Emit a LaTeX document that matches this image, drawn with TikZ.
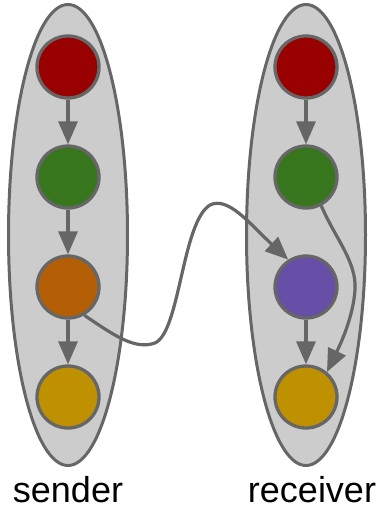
\documentclass[tikz,border=0pt]{standalone}
\usepackage{fontspec}
\setmainfont{Liberation Sans}
\usetikzlibrary{arrows.meta,shapes.geometric}
\definecolor{edge}{HTML}{666666}
\definecolor{pod}{HTML}{CCCCCC}
\definecolor{cred}{HTML}{990000}
\definecolor{cgreen}{HTML}{38761D}
\definecolor{corange}{HTML}{B45F06}
\definecolor{cyellow}{HTML}{BF9000}
\definecolor{cpurple}{HTML}{674EA7}
\tikzset{
  group/.style={ellipse, draw=edge, fill=pod, line width=3pt,
    minimum width=119pt, minimum height=461pt, inner sep=0pt},
  ball/.style={circle, draw=edge, line width=3.3pt, minimum size=62pt, inner sep=0pt},
  arr/.style={draw=edge, line width=3.2pt,
    -{Triangle[length=23pt,width=19pt]}},
  lbl/.style={anchor=base, font=\fontsize{36}{40}\selectfont, inner sep=0pt,
    text depth=0pt}
}
\begin{document}
\begin{tikzpicture}[x=1pt,y=-1pt]
  \useasboundingbox (0,0) rectangle (381,506);
  % process ovals
  \node[group] (S) at (68,235) {};
  \node[group] (R) at (306,235) {};
  % sender events
  \node[ball, fill=cred]    (s1) at (68,67)  {};
  \node[ball, fill=cgreen]  (s2) at (68,177) {};
  \node[ball, fill=corange] (s3) at (68,287) {};
  \node[ball, fill=cyellow] (s4) at (68,397) {};
  % receiver events
  \node[ball, fill=cred]    (r1) at (306,67)  {};
  \node[ball, fill=cgreen]  (r2) at (306,177) {};
  \node[ball, fill=cpurple] (r3) at (306,287) {};
  \node[ball, fill=cyellow] (r4) at (306,397) {};
  % local order
  \draw[arr] (s1) -- (s2);
  \draw[arr] (s2) -- (s3);
  \draw[arr] (s3) -- (s4);
  \draw[arr] (r1) -- (r2);
  \draw[arr] (r3) -- (r4);
  % message from sender to receiver
  \draw[arr] (s3.-60) .. controls (115,336) and (135,350) .. (155,343)
    .. controls (180,332) and (182,222) .. (210,205)
    .. controls (228,196) and (250,224) .. (r3.123);
  % receiver green to yellow
  \draw[arr] (r2.-62) .. controls (335,238) and (357,262) .. (355,290)
    .. controls (353,318) and (340,345) .. (r4.50);
  % labels
  \node[lbl] (ls) at (68,502) {sender};
  \node[lbl] (lr) at (312,502) {receiver};
\end{tikzpicture}
\end{document}
